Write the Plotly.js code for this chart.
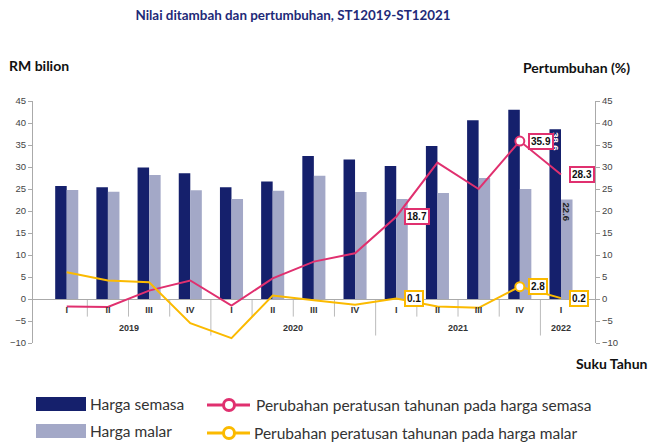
<!DOCTYPE html>
<html>
<head>
<meta charset="utf-8">
<script src="https://cdn.plot.ly/plotly-3.0.1.min.js"></script>
<style>
  html, body { margin: 0; padding: 0; background: #ffffff; }
  #chart { width: 650px; height: 446px; }
</style>
</head>
<body>
<div id="chart"></div>
<script>
// ---- data ----
const categories = ['2019 I','2019 II','2019 III','2019 IV','2020 I','2020 II','2020 III','2020 IV','2021 I','2021 II','2021 III','2021 IV','2022 I'];
const quarters = ['I','II','III','IV','I','II','III','IV','I','II','III','IV','I'];
const years = ['2019','2019','2019','2019','2020','2020','2020','2020','2021','2021','2021','2021','2022'];
const hargaSemasa = [25.7, 25.4, 29.9, 28.6, 25.4, 26.7, 32.5, 31.7, 30.2, 34.8, 40.6, 43.0, 38.6];
const hargaMalar  = [24.8, 24.4, 28.2, 24.7, 22.7, 24.6, 28.0, 24.3, 22.7, 24.1, 27.5, 25.0, 22.6];
const ubahSemasa  = [-1.7, -1.8, 1.9, 4.2, -1.5, 4.7, 8.5, 10.4, 18.7, 31.0, 25.0, 35.9, 28.3];
const ubahMalar   = [6.1, 4.2, 3.8, -5.5, -8.9, 0.8, -0.3, -1.3, 0.1, -1.7, -2.0, 2.8, 0.2];
const labelledLinePoints = [8, 11, 12];
const labelledBarPoints = [12];
const markerPoints = [11];
const seriesNames = ['Harga semasa', 'Harga malar',
  'Perubahan peratusan tahunan pada harga semasa',
  'Perubahan peratusan tahunan pada harga malar'];

// ---- styles ----
const C_DARK = '#15206c', C_LIGHT = '#a3a8c7', C_PINK = '#e0306f', C_YEL = '#fbba00';
const CG = 'Lato, "Noto Sans", sans-serif';
const AR = '"Liberation Sans", Arial, sans-serif';
const L = 33, R = 55, T = 101, B = 103, W = 650, H = 446;
const PW = W - L - R, PH = H - T - B;
const X = px => (px - L) / PW;
const Y = py => (H - B - py) / PH;

const barText = (vals) => vals.map((v, i) => labelledBarPoints.includes(i) ? v.toFixed(1) : '');
const markerOpacity = categories.map((c, i) => markerPoints.includes(i) ? 1 : 0);

const traces = [
  { type: 'bar', name: seriesNames[0], x: categories, y: hargaSemasa, marker: { color: C_DARK },
    text: barText(hargaSemasa), textposition: 'inside', insidetextanchor: 'end', textangle: 90, constraintext: 'none',
    textfont: { family: AR, size: 9.5, color: '#ffffff', weight: 'bold' }, showlegend: false, hoverinfo: 'skip' },
  { type: 'bar', name: seriesNames[1], x: categories, y: hargaMalar, marker: { color: C_LIGHT },
    text: barText(hargaMalar), textposition: 'inside', insidetextanchor: 'end', textangle: 90, constraintext: 'none',
    textfont: { family: AR, size: 9.5, color: '#222222', weight: 'bold' }, showlegend: false, hoverinfo: 'skip' },
  { type: 'scatter', mode: 'lines+markers', name: seriesNames[2], x: categories, y: ubahSemasa, yaxis: 'y2',
    line: { color: C_PINK, width: 2 },
    marker: { size: 9, color: '#ffffff', opacity: markerOpacity, line: { color: C_PINK, width: 2 } },
    showlegend: false, hoverinfo: 'skip' },
  { type: 'scatter', mode: 'lines+markers', name: seriesNames[3], x: categories, y: ubahMalar, yaxis: 'y2',
    line: { color: C_YEL, width: 2 },
    marker: { size: 9, color: '#ffffff', opacity: markerOpacity, line: { color: C_YEL, width: 2 } },
    showlegend: false, hoverinfo: 'skip' }
];

const annotations = [];
labelledLinePoints.forEach(i => {
  annotations.push({ x: categories[i], y: ubahSemasa[i], xref: 'x', yref: 'y2', text: ubahSemasa[i].toFixed(1),
    showarrow: false, xanchor: 'left', yanchor: 'middle', xshift: 8,
    bgcolor: '#ffffff', bordercolor: C_PINK, borderwidth: 2, borderpad: 1,
    font: { family: AR, size: 10, color: '#111111', weight: 'bold' } });
  annotations.push({ x: categories[i], y: ubahMalar[i], xref: 'x', yref: 'y2', text: ubahMalar[i].toFixed(1),
    showarrow: false, xanchor: 'left', yanchor: 'middle', xshift: 8,
    bgcolor: '#ffffff', bordercolor: C_YEL, borderwidth: 2, borderpad: 1,
    font: { family: AR, size: 10, color: '#111111', weight: 'bold' } });
});

// year labels under the quarter labels
const yearList = [...new Set(years)];
yearList.forEach(yr => {
  const idx = years.map((v, i) => v === yr ? i : -1).filter(i => i >= 0);
  const mid = (idx[0] + idx[idx.length - 1]) / 2;
  annotations.push({ x: mid, y: 0, xref: 'x', yref: 'y', yshift: -29, text: yr, showarrow: false,
    font: { family: AR, size: 9, color: '#333333', weight: 'bold' } });
});

// axis captions
const capFont = { family: CG, size: 14, color: '#111111', weight: 'bold' };
annotations.push({ xref: 'paper', yref: 'paper', x: X(7), y: Y(65), xanchor: 'left', yanchor: 'middle',
  text: 'RM bilion', showarrow: false, font: capFont });
annotations.push({ xref: 'paper', yref: 'paper', x: X(521), y: Y(67), xanchor: 'left', yanchor: 'middle',
  text: 'Pertumbuhan (%)', showarrow: false, font: capFont });
annotations.push({ xref: 'paper', yref: 'paper', x: X(574), y: Y(363), xanchor: 'left', yanchor: 'middle',
  text: 'Suku Tahun', showarrow: false, font: capFont });

// legend texts
const legFont = { family: CG, size: 15.5, color: '#333333' };
annotations.push({ xref: 'paper', yref: 'paper', x: X(88), y: Y(404), xanchor: 'left', yanchor: 'middle', text: seriesNames[0], showarrow: false, font: legFont });
annotations.push({ xref: 'paper', yref: 'paper', x: X(88), y: Y(431), xanchor: 'left', yanchor: 'middle', text: seriesNames[1], showarrow: false, font: legFont });
annotations.push({ xref: 'paper', yref: 'paper', x: X(254), y: Y(405), xanchor: 'left', yanchor: 'middle', text: seriesNames[2], showarrow: false, font: legFont });
annotations.push({ xref: 'paper', yref: 'paper', x: X(252), y: Y(433), xanchor: 'left', yanchor: 'middle', text: seriesNames[3], showarrow: false, font: legFont });

// boundary ticks and year dividers
const shapes = [];
for (let i = 0; i < categories.length - 1; i++) {
  const yearChange = years[i] !== years[i + 1];
  shapes.push({ type: 'line', xref: 'x', yref: 'y', x0: i + 0.5, x1: i + 0.5, y0: 0, y1: yearChange ? -8.3 : -4.0,
    line: { color: '#bbbbbb', width: 1 }, layer: 'below' });
}
// legend swatches
shapes.push({ type: 'rect', xref: 'paper', yref: 'paper', x0: X(36), x1: X(86), y0: Y(411), y1: Y(397), fillcolor: C_DARK, line: { width: 0 } });
shapes.push({ type: 'rect', xref: 'paper', yref: 'paper', x0: X(36), x1: X(86), y0: Y(438), y1: Y(424), fillcolor: C_LIGHT, line: { width: 0 } });
[[405, C_PINK], [433, C_YEL]].forEach(([yy, col]) => {
  shapes.push({ type: 'line', xref: 'paper', yref: 'paper', x0: X(207), x1: X(250), y0: Y(yy), y1: Y(yy), line: { color: col, width: 3 } });
  shapes.push({ type: 'circle', xref: 'paper', yref: 'paper', x0: X(223.5), x1: X(234.5), y0: Y(yy + 5.5), y1: Y(yy - 5.5), fillcolor: '#ffffff', line: { color: col, width: 3 } });
});

const axisY = {
  range: [-10, 45], dtick: 5, showgrid: false, showline: true, linecolor: '#aaaaaa', linewidth: 1,
  ticks: 'outside', ticklen: 4, tickcolor: '#aaaaaa',
  tickfont: { family: AR, size: 9.5, color: '#444444' }, fixedrange: true
};

const layout = {
  width: W, height: H,
  margin: { l: L, r: R, t: T, b: B, pad: 0 },
  paper_bgcolor: '#ffffff', plot_bgcolor: '#ffffff',
  title: { text: 'Nilai ditambah dan pertumbuhan, ST12019-ST12021', x: 293 / W, xanchor: 'center', xref: 'container',
    y: 1 - 15 / H, yanchor: 'middle', yref: 'container',
    font: { family: CG, size: 13.4, color: '#1e2a78', weight: 'bold' } },
  barmode: 'group', bargap: 0.44, bargroupgap: 0,
  xaxis: {
    type: 'category', tickvals: categories, ticktext: quarters, ticks: '',
    showline: false, showgrid: false, zeroline: false,
    anchor: 'free', position: Y(299.3), ticklabelstandoff: 4,
    tickfont: { family: AR, size: 9, color: '#333333', weight: 'bold' }, fixedrange: true
  },
  yaxis: Object.assign({}, axisY, { zeroline: true, zerolinecolor: '#aaaaaa', zerolinewidth: 1 }),
  yaxis2: Object.assign({}, axisY, { overlaying: 'y', side: 'right', zeroline: false }),
  showlegend: false,
  annotations: annotations,
  shapes: shapes
};

Plotly.newPlot('chart', traces, layout, { displayModeBar: false, staticPlot: true });
</script>
</body>
</html>
